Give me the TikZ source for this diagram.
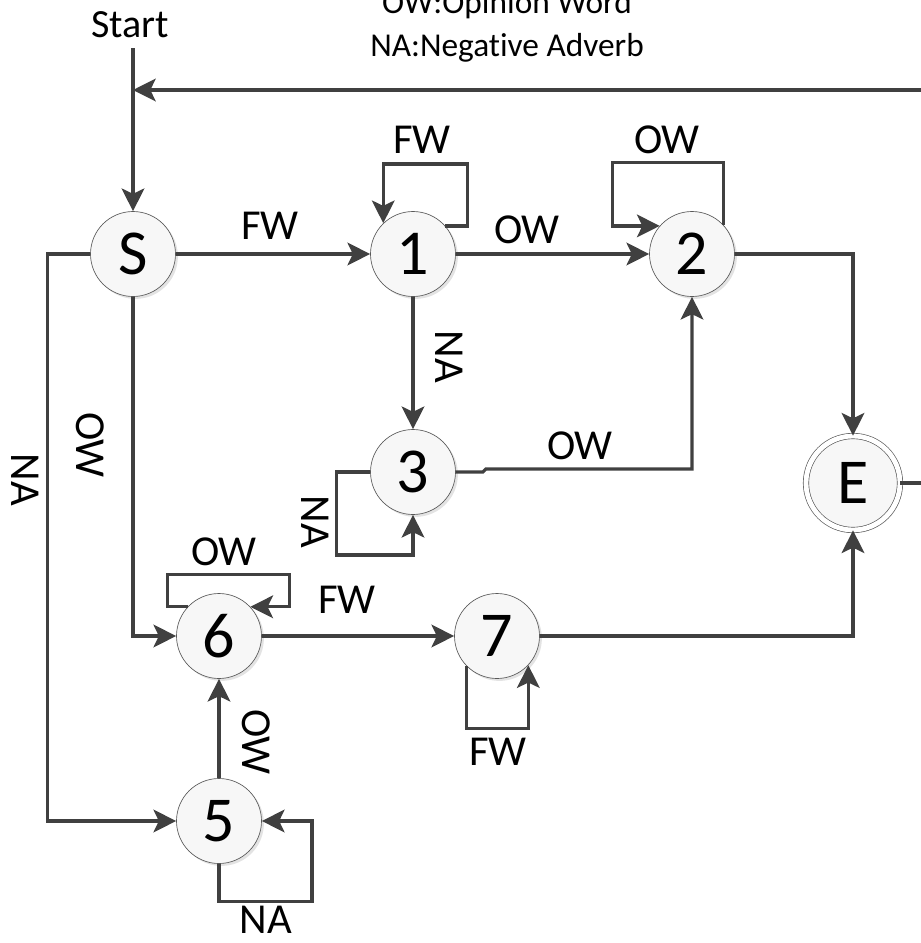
\documentclass[tikz,border=0pt]{standalone}
\usepackage{fontspec}
\setmainfont{Carlito}[Ligatures=NoCommon]
\usepackage{tikz}
\usetikzlibrary{arrows.meta, shadows, calc}

\begin{document}
\begin{tikzpicture}[x=0.75pt,y=-0.75pt]
\tikzset{
  st/.style={circle,draw=black!65,line width=0.5pt,fill=gray!6,minimum size=63.75pt,inner sep=0pt,
    font=\fontsize{48}{50}\selectfont,drop shadow={shadow xshift=1.8pt,shadow yshift=-1.8pt,fill=black!18,opacity=0.6}},
  fin/.style={st,double,double distance=3.6pt,minimum size=70.5pt},
  ar/.style={-{Stealth[length=17pt,width=17pt,inset=4pt]},line width=2.4pt,draw=black!75},
  lb/.style={font=\fontsize{32}{36}\selectfont,inner sep=0pt},
  lbv/.style={lb,rotate=-90},
  lg/.style={font=\fontsize{25}{30}\selectfont,inner sep=0pt}
}
\useasboundingbox (0,0) rectangle (921,943);
% states
\node[st] (nS) at (133,254) {S};
\node[st] (n1) at (413,254) {1};
\node[st] (n2) at (692,254) {2};
\node[st] (n3) at (413,472) {3};
\node[fin] (nE) at (853,483) {E};
\node[st] (n6) at (219,636) {6};
\node[st] (n7) at (497,636) {7};
\node[st] (n5) at (219,821) {5};
% header
\node[lb,font=\fontsize{30}{34}\selectfont] (start) at (130,25) {Start};
\node[lg] (lgow) at (507,5) {OW:Opinion Word};
\node[lg] (lgna) at (507,48) {NA:Negative Adverb};
\coordinate (j) at (133,90);
\draw[ar] (133,48) -- (nS.north);
\draw[ar] (nE.east) -- ++(40,0) |- (j);
% transitions
\draw[ar] (nS) -- (n1);
\node[lb] (tS1) at (270,226) {FW};
\draw[ar] (n1) -- (n2);
\node[lb] (t12) at (527,230) {OW};
\draw[ar] (n2.east) -| (nE.north);
\draw[ar] (n1) -- (n3);
\node[lbv] (t13) at (449,357) {NA};
\draw[ar] (n3.east) -- ++(27,0) -- ++(3,-3) -| (n2.south);
\node[lb] (t32) at (580,446) {OW};
\draw[ar] (nS.south) |- (n6.west);
\node[lbv] (tS6) at (90,445) {OW};
\draw[ar] (nS.west) -- ++(-43,0) |- (n5.west);
\node[lbv] (tS5) at (25,480) {NA};
\draw[ar] (n6) -- (n7);
\node[lb] (t67) at (347,600) {FW};
\draw[ar] (n7.east) -| (nE.south);
\draw[ar] (n5) -- (n6);
\node[lbv] (t56) at (256,742) {OW};
% self loops
\draw[ar] (n1.41) -- ++(22,0) -- ++(0,-62) -| (n1.134);
\node[lb] (l1) at (422,140) {FW};
\draw[ar] (n2.43) -- ++(0,-62) -- ++(-111,0) |- (n2.139);
\node[lb] (l2) at (667,140) {OW};
\draw[ar] (n3.west) -- ++(-34,0) -- ++(0,83) -| (n3.south);
\node[lbv] (l3) at (315,522) {NA};
\draw[ar] (n6.137) -- ++(-20,0) -- ++(0,-32) -- ++(122,0) |- (n6.43);
\node[lb] (l6) at (224,552) {OW};
\draw[ar] (n7.225) -- ++(0,62) -| (n7.-43);
\node[lb] (l7) at (498,752) {FW};
\draw[ar] (n5.south) -- ++(0,38) -- ++(93,0) |- (n5.east);
\node[lb] (l5) at (266,920) {NA};
\end{tikzpicture}
\end{document}
